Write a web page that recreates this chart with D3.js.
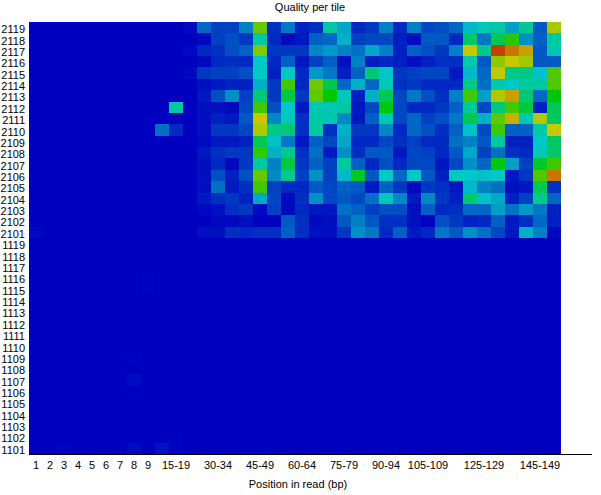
<!DOCTYPE html>
<html>
<head>
<meta charset="utf-8">
<script src="https://cdn.jsdelivr.net/npm/d3@7"></script>
<style>
  html, body { margin: 0; padding: 0; background: #fff; }
  svg { display: block; }
  text { font-family: "Liberation Sans", sans-serif; font-size: 11px; fill: #000; }
</style>
</head>
<body>
<div id="app"></div>
<script>
// sizing
const width = 601;
const height = 495;
const margin = {left: 29, right: 40, top: 22, bottom: 41};

const positions = ["1","2","3","4","5","6","7","8","9",
  "10-14","15-19","20-24","25-29","30-34","35-39","40-44","45-49","50-54","55-59","60-64",
  "65-69","70-74","75-79","80-84","85-89","90-94","95-99","100-104","105-109","110-114",
  "115-119","120-124","125-129","130-134","135-139","140-144","145-149","150-151"];

const positionTicks = ["1","2","3","4","5","6","7","8","9",
  "15-19","30-34","45-49","60-64","75-79","90-94","105-109","125-129","145-149"];

const tiles = [2119,2118,2117,2116,2115,2114,2113,2112,2111,2110,2109,2108,2107,2106,2105,2104,2103,2102,2101,
  1119,1118,1117,1116,1115,1114,1113,1112,1111,1110,1109,1108,1107,1106,1105,1104,1103,1102,1101];

// one row per tile, left to right along the read
const r2119 = [0,0,0,0,0,0,0,0,0,0,0,1, 13,8,8,16,63,6,15,4,6,30,21,5,7, 16,5,16,9,10,13,23,27,30,20,32,11,71];
const r2118 = [0,0,0,0,0,0,0,0,0,0,0,0, 1,8,10,7,30,5,1,3,12,13,22,8,9, 9,4,2,11,11,5,37,15,40,55,18,12,30];
const r2117 = [0,0,0,0,0,0,0,0,0,0,0,1, 5,6,10,12,66,7,7,7,17,19,16,14,21, 16,4,12,10,7,16,75,33,92,85,80,11,28];
const r2116 = [0,0,0,0,0,0,0,0,0,0,0,0, 1,5,6,5,25,5,12,3,8,12,2,16,4, 5,4,2,4,6,6,28,11,68,75,70,11,11];
const r2115 = [0,0,0,0,0,0,0,0,0,0,0,1, 7,8,8,10,25,4,26,5,19,15,4,12,35, 25,7,8,9,9,3,23,13,74,33,33,24,60];
const r2114 = [0,0,0,0,0,0,0,0,0,0,0,0, 2,3,4,4,22,7,58,5,64,40,13,22,13, 27,6,7,5,5,5,33,14,28,25,30,30,60];
const r2113 = [0,0,0,0,0,0,0,0,0,0,0,0, 3,10,18,8,35,7,42,7,62,50,27,4,22, 40,9,15,10,6,16,58,20,72,80,36,13,50];
const r2112 = [0,0,0,0,0,0,0,0,0,0,30,0, 2,2,1,9,58,10,25,3,28,28,30,3,9, 48,9,5,5,7,12,31,9,35,58,42,4,40];
const r2111 = [0,0,0,0,0,0,0,0,0,0,0,0, 2,4,3,11,75,17,27,6,30,28,17,3,12, 28,9,13,8,10,15,40,22,62,78,28,72,38];
const r2110 = [0,0,0,0,0,0,0,0,0,14,5,0, 2,7,7,9,72,34,35,6,30,6,22,7,7, 17,5,13,10,6,12,24,9,58,12,12,30,75];
const r2109 = [0,0,0,0,0,0,0,0,0,0,0,0, 1,3,3,4,40,24,15,3,12,9,21,5,5, 9,6,8,5,5,14,16,11,30,4,4,25,38];
const r2108 = [0,0,0,0,0,0,0,0,0,0,0,0, 3,6,7,7,56,22,32,6,14,3,18,6,11, 11,3,9,8,5,11,21,8,14,6,5,27,37];
const r2107 = [0,0,0,0,0,0,0,0,0,0,0,0, 2,5,1,7,30,16,42,7,12,8,30,12,5, 10,5,9,9,3,9,18,13,48,20,8,45,58];
const r2106 = [0,0,0,0,0,0,0,0,0,0,0,0, 2,10,4,10,63,17,32,8,18,8,23,45,11, 25,13,25,11,4,26,25,24,25,3,7,60,85];
const r2105 = [0,0,0,0,0,0,0,0,0,0,0,0, 2,14,3,6,58,8,5,5,11,9,12,11,3, 12,7,1,7,6,3,23,16,14,2,3,40,6];
const r2104 = [0,0,0,0,0,0,0,0,0,0,0,0, 3,6,7,4,21,9,1,6,18,9,11,9,14, 27,17,3,17,7,4,36,24,21,4,8,32,13];
const r2103 = [0,0,0,0,0,0,0,0,0,0,0,0, 1,2,6,7,1,8,1,5,3,3,14,12,8, 10,10,2,12,5,6,13,13,20,14,19,15,4];
const r2102 = [0,0,0,0,0,0,0,0,0,0,0,0, 0,1,1,2,0,0,11,6,1,2,11,16,11, 6,6,2,0,10,7,4,5,12,3,6,13,4];
const r2101 = [1,0,0,0,0,0,0,0,0,0,0,0, 2,2,6,5,6,6,12,6,2,2,7,18,15, 5,12,3,5,15,11,18,14,9,3,22,16,1];
const r1116 = [0,0,0,0,0,0,0,0,0.5,0,0,0, 0,0,0,0,0,0,0,0,0,0,0,0,0, 0,0,0,0,0,0,0,0,0,0,0,0,0];
const r1115 = [0,0,0,0,0,0,0,0,0.5,0,0,0, 0,0,0,0,0,0,0,0,0,0,0,0,0, 0,0,0,0,0,0,0,0,0,0,0,0,0];
const r1109 = [0,0,0,0,0,0,0,0.5,0,0,0,0, 0,0,0,0,0,0,0,0,0,0,0,0,0, 0,0,0,0,0,0,0,0,0,0,0,0,0];
const r1107 = [0,0,0,0,0,0,0,1.5,0,0,0,0, 0,0,0,0,0,0,0,0,0,0,0,0,0, 0,0,0,0,0,0,0,0,0,0,0,0,0];
const r1102 = [0,0,0,0,0,0,0,0,0,0,0.5,0, 0,0,0,0,0,0,0,0,0,0,0,0,0, 0,0,0,0,0,0,0,0,0,0,0,0,0];
const r1101 = [0,0,0.5,0,0,0,0,1.5,0,2.5,0.5,0, 0,0,0,0,0,0,0,0,0,0,0,0,0, 0,0,0,0,0,0,0,0,0,0,0,0,0];

const rows = {2119:r2119,2118:r2118,2117:r2117,2116:r2116,2115:r2115,2114:r2114,2113:r2113,2112:r2112,
  2111:r2111,2110:r2110,2109:r2109,2108:r2108,2107:r2107,2106:r2106,2105:r2105,2104:r2104,2103:r2103,
  2102:r2102,2101:r2101,1116:r1116,1115:r1115,1109:r1109,1107:r1107,1102:r1102,1101:r1101};

const svg = d3.select("#app")
  .append("svg")
    .attr("width", width)
    .attr("height", height);

// x axis
const x = d3.scaleBand()
    .domain(positions)
    .range([margin.left, 561]);

// y axis
const y = d3.scaleBand()
    .domain(tiles)
    .range([margin.top, height - margin.bottom]);

// blue - cyan - green - yellow - red
const color = d3.scaleLinear()
    .domain([0, 25, 50, 75, 100])
    .range(["rgb(0,0,192)", "rgb(0,200,200)", "rgb(0,200,0)", "rgb(200,200,0)", "rgb(200,0,0)"]);

const cells = tiles.flatMap(t => positions.map((p, i) => ({
  tile: t, pos: p, value: rows[t] ? rows[t][i] : 0
})));

svg.append("g")
  .selectAll("rect")
  .data(cells)
  .enter().append("rect")
    .attr("x", d => x(d.pos))
    .attr("y", d => y(d.tile))
    .attr("width", x.bandwidth())
    .attr("height", y.bandwidth())
    .attr("fill", d => color(d.value))
    .attr("shape-rendering", "crispEdges");

// bottom axis runs past the heat map
const xAxis = svg.append("g")
    .attr("transform", "translate(0," + y.range()[1] + ")")
    .call(d3.axisBottom(x).tickValues(positionTicks).tickSize(0).tickPadding(7));
xAxis.select(".domain").remove();

svg.append("line")
    .attr("x1", margin.left).attr("x2", 592)
    .attr("y1", y.range()[1] + 0.5).attr("y2", y.range()[1] + 0.5)
    .attr("stroke", "#000")
    .attr("shape-rendering", "crispEdges");

const yAxis = svg.append("g")
    .attr("transform", "translate(" + margin.left + ",2)")
    .call(d3.axisLeft(y).tickSize(0).tickPadding(4));
yAxis.select(".domain").remove();

svg.append("text")
    .attr("x", 310).attr("y", 11)
    .attr("text-anchor", "middle")
    .text("Quality per tile");

svg.append("text")
    .attr("x", 298).attr("y", 488)
    .attr("text-anchor", "middle")
    .text("Position in read (bp)");
</script>
</body>
</html>
